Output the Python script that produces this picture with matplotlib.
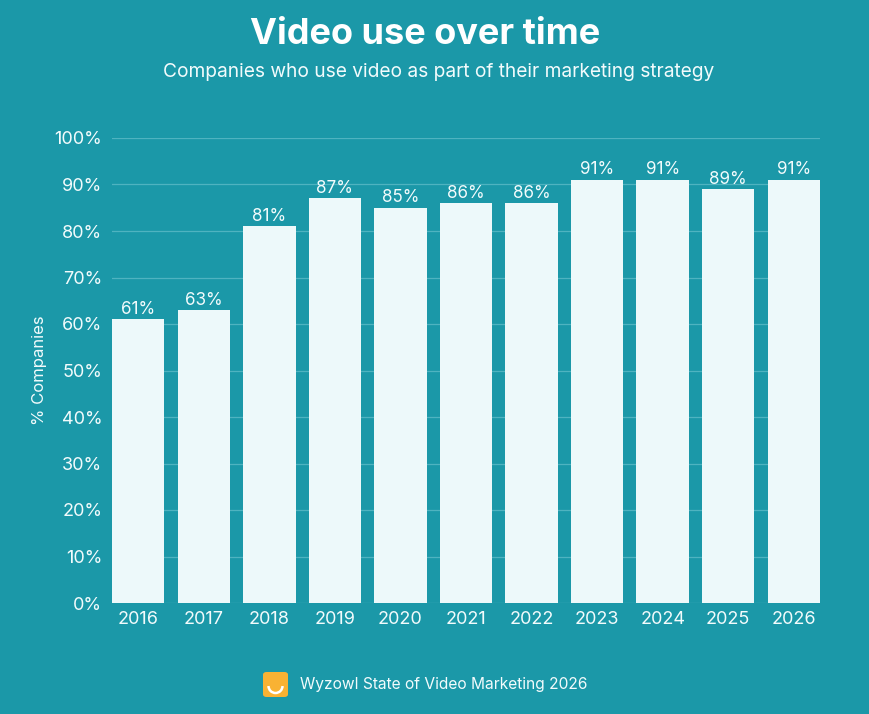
import matplotlib
matplotlib.use('Agg')
import matplotlib.pyplot as plt
from matplotlib.patches import FancyBboxPatch, Arc
import numpy as np

years = ['2016', '2017', '2018', '2019', '2020', '2021', '2022', '2023', '2024', '2025', '2026']
values = [61, 63, 81, 87, 85, 86, 86, 91, 91, 89, 91]
yticks = [0, 10, 20, 30, 40, 50, 60, 70, 80, 90, 100]

bg = '#1b98a8'
bar_col = '#edf9fa'
txt = '#f2fbfc'

plt.rcParams['font.family'] = ['Inter', 'DejaVu Sans']

fig = plt.figure(figsize=(8.7, 7.14), dpi=100, facecolor=bg)
ax = fig.add_axes([112/870, 1-603/714, 708/870, 465/714])
ax.set_facecolor(bg)

x = np.arange(len(years))
ax.bar(x, values, width=0.8, color=bar_col, zorder=3)
for xi, v in zip(x, values):
    ax.text(xi, v + 0.3, f'{v}%', ha='center', va='bottom', color=txt, fontsize=12.3, zorder=4)

ax.set_xlim(-0.4, len(years) - 0.6)
ax.set_ylim(0, 100)
ax.set_yticks(yticks)
ax.set_yticklabels([f'{t}%' for t in yticks])
ax.set_xticks(x)
ax.set_xticklabels(years)
ax.tick_params(colors=txt, labelsize=13, length=0)
ax.tick_params(axis='y', pad=7)
ax.tick_params(axis='x', pad=6)
ax.grid(axis='y', color='#4fb3c0', linewidth=0.9, zorder=0)
for s in ax.spines.values():
    s.set_visible(False)
ax.set_ylabel('% Companies', color=txt, fontsize=12, labelpad=5.5)

fig.text(425/870, 1-35/714, 'Video use over time', ha='center', va='center',
         color='white', fontsize=26, fontweight='bold')
fig.text(439/870, 1-72/714, 'Companies who use video as part of their marketing strategy',
         ha='center', va='center', color=txt, fontsize=13.8)

# footer logo + source
logo = FancyBboxPatch((263/870, 1-697/714), 25/870, 25/714,
                      boxstyle='round,pad=0,rounding_size=0.004',
                      transform=fig.transFigure, facecolor='#f9b233', edgecolor='none')
fig.patches.append(logo)
fig.patches.append(Arc((275.5/870, 1-686/714), 14/870, 14/714, theta1=180, theta2=360,
                       transform=fig.transFigure, color='white', linewidth=1.8))
fig.text(300/870, 1-685/714, 'Wyzowl State of Video Marketing 2026', ha='left', va='center',
         color=txt, fontsize=11.2)

plt.savefig('out.png', dpi=100, facecolor=bg)
